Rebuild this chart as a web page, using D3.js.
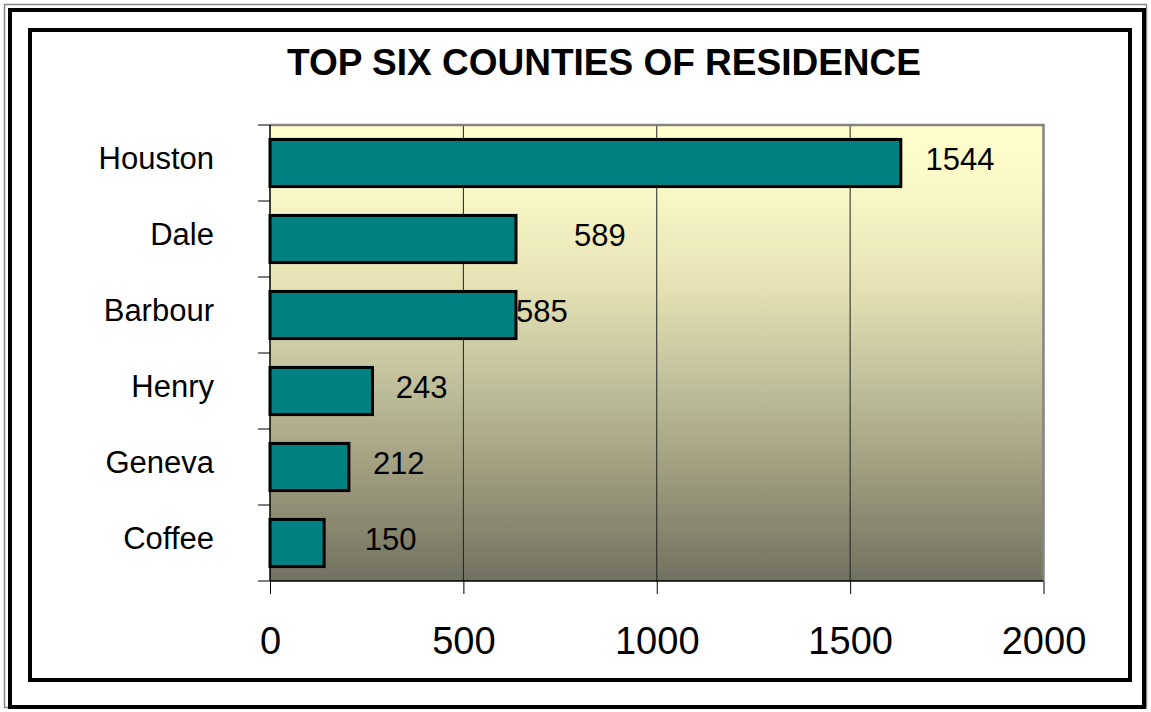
<!DOCTYPE html>
<html><head><meta charset="utf-8">
<script src="https://cdn.jsdelivr.net/npm/d3@7"></script>
<style>body{margin:0;background:#fff}svg{display:block}text{font-family:"Liberation Sans",Arial,sans-serif}</style>
</head><body>
<svg id="c" width="1151" height="712"></svg>
<script>
const categories = ["Houston","Dale","Barbour","Henry","Geneva","Coffee"];
// bar lengths as drawn in the picture
const barValues = [1631, 636, 636, 265, 204, 140];
// value labels printed next to bars
const labelValues = [1544, 589, 585, 243, 212, 150];
// where each value label starts, in data units
const labelAt = [1695, 786, 636, 325, 266, 245];
const xTicks = [0, 500, 1000, 1500, 2000];
const title = "TOP SIX COUNTIES OF RESIDENCE";

const svg = d3.select("#c");
const m = {left:270, right:1043.5, top:125, bottom:581};

// frames
svg.append("rect").attr("x",4.5).attr("y",4.5).attr("width",1142).attr("height",703)
  .attr("fill","none").attr("stroke","#888").attr("stroke-width",1.5);
svg.append("rect").attr("x",10).attr("y",10).attr("width",1134).attr("height",697)
  .attr("fill","none").attr("stroke","#000").attr("stroke-width",4);
svg.append("rect").attr("x",30).attr("y",30).attr("width",1100).attr("height",650)
  .attr("fill","#fff").attr("stroke","#000").attr("stroke-width",4);

const x = d3.scaleLinear().domain([0,2000]).range([m.left, m.right]);
const y = d3.scaleBand().domain(categories).range([m.top, m.bottom]).paddingInner(0.38).paddingOuter(0.19);
const yb = d3.scaleBand().domain(categories).range([m.top, m.bottom]);

const defs = svg.append("defs");
const g = defs.append("linearGradient").attr("id","bg").attr("x1",0).attr("y1",0).attr("x2",0).attr("y2",1);
[[0,"#FFFFCC"],[0.15,"#F9F7C6"],[0.35,"#E6E2B4"],[0.55,"#C3C29D"],[0.78,"#9C9A7C"],[1,"#717160"]]
  .forEach(s=>g.append("stop").attr("offset",s[0]).attr("stop-color",s[1]));

svg.append("rect").attr("x",m.left).attr("y",m.top).attr("width",m.right-m.left).attr("height",m.bottom-m.top)
  .attr("fill","url(#bg)");

// gridlines
svg.append("g").selectAll("line").data(xTicks.slice(1,-1)).join("line")
  .attr("x1",d=>x(d)).attr("x2",d=>x(d)).attr("y1",m.top).attr("y2",m.bottom)
  .attr("stroke","#222").attr("stroke-width",1);

// plot border top/right gray
svg.append("path").attr("d",`M${m.left},${m.top}H${m.right}V${m.bottom}`)
  .attr("fill","none").attr("stroke","#848484").attr("stroke-width",2.5);

// bars
svg.append("g").selectAll("rect").data(categories).join("rect")
  .attr("x",x(0)).attr("y",d=>y(d)).attr("width",(d,i)=>x(barValues[i])-x(0)).attr("height",y.bandwidth())
  .attr("fill","#008080").attr("stroke","#000").attr("stroke-width",3);

// axes
const xAxis = d3.axisBottom(x).tickValues(xTicks).tickSize(13).tickPadding(33).tickFormat(d3.format("d"));
const xg = svg.append("g").attr("transform",`translate(0,${m.bottom})`).call(xAxis);
xg.select(".domain").attr("stroke","#000").attr("stroke-width",1.5).attr("d",`M${m.left},0H${m.right}`);
xg.selectAll(".tick line").attr("stroke","#000").attr("stroke-width",1);
xg.selectAll(".tick text").attr("font-size",38).attr("fill","#000").attr("font-family","Liberation Sans, Arial, sans-serif");

const yg = svg.append("g").attr("transform",`translate(${m.left},0)`);
yg.append("path").attr("d",`M0,${m.top}V${m.bottom}`).attr("stroke","#000").attr("stroke-width",1.5);
yg.selectAll("line.t").data(d3.range(categories.length+1)).join("line").attr("class","t")
  .attr("x1",-12).attr("x2",0).attr("y1",i=>m.top+i*yb.step()).attr("y2",i=>m.top+i*yb.step())
  .attr("stroke","#000").attr("stroke-width",1);

// category labels
svg.append("g").selectAll("text").data(categories).join("text")
  .attr("x",214).attr("y",d=>yb(d)+yb.bandwidth()/2+5.5).attr("text-anchor","end")
  .attr("font-size",31).attr("fill","#000").text(d=>d);

// value labels
svg.append("g").selectAll("text").data(categories).join("text")
  .attr("x",(d,i)=>x(labelAt[i])).attr("y",(d,i)=>yb(d)+yb.bandwidth()/2+7)
  .attr("font-size",31).attr("fill","#000").text((d,i)=>labelValues[i]);

// title
svg.append("text").attr("x",604).attr("y",75).attr("text-anchor","middle")
  .attr("font-size",37).attr("font-weight","bold").attr("fill","#000").text(title);
</script>
</body></html>
